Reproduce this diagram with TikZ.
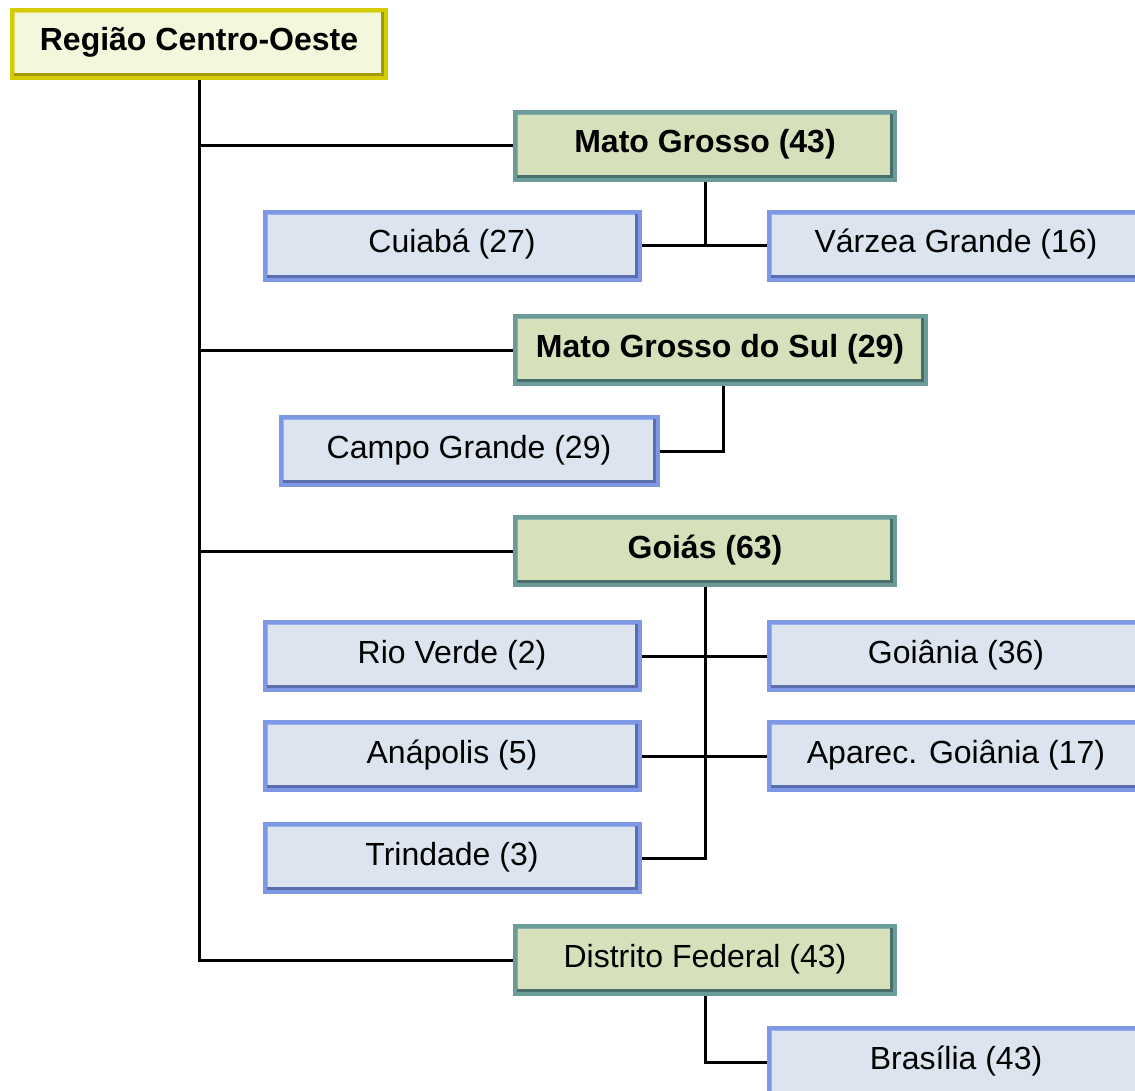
\documentclass[tikz,border=0pt]{standalone}
\usepackage{fontspec}
\setmainfont{Liberation Sans}
\usepackage{xcolor}
\usepackage{tikz}

\definecolor{rootfill}{HTML}{F5F7DC}
\definecolor{rootedge}{HTML}{D4CC00}
\definecolor{rootlite}{HTML}{E2DE6A}
\definecolor{rootdark}{HTML}{A39A00}
\definecolor{statefill}{HTML}{D6E1BC}
\definecolor{stateedge}{HTML}{6B9C99}
\definecolor{statelite}{HTML}{86AEAB}
\definecolor{statedark}{HTML}{496F6D}
\definecolor{cityfill}{HTML}{DCE4F0}
\definecolor{cityedge}{HTML}{7F98E6}
\definecolor{citylite}{HTML}{98AFEE}
\definecolor{citydark}{HTML}{5A6DAE}

\begin{document}
\begin{tikzpicture}[x=1pt, y=-1pt,
  bevelbox/.style n args={4}{rectangle, fill=#1, draw=#2, line width=4pt, inner sep=0pt,
    text height=24pt, text depth=10pt, font=\fontsize{32}{36}\selectfont,
    path picture={
      \fill[#3] (path picture bounding box.north west) rectangle ([yshift=-3pt]path picture bounding box.north east);
      \fill[#3] (path picture bounding box.north west) rectangle ([xshift=3pt]path picture bounding box.south west);
      \fill[#4] ([yshift=5pt]path picture bounding box.south west) rectangle (path picture bounding box.south east);
      \fill[#4] ([xshift=-5pt]path picture bounding box.north east) rectangle (path picture bounding box.south east);
    }},
  rootbox/.style={bevelbox={rootfill}{rootedge}{rootlite}{rootdark}, minimum width=374pt, minimum height=68pt, font=\fontsize{32}{36}\selectfont\bfseries},
  statebox/.style={bevelbox={statefill}{stateedge}{statelite}{statedark}, minimum width=380pt, minimum height=68pt},
  citybox/.style={bevelbox={cityfill}{cityedge}{citylite}{citydark}, minimum width=375pt, minimum height=68pt},
  link/.style={line width=3pt, black}]

\useasboundingbox (0,0) rectangle (1135,1091);

\node[rootbox] at (199, 44) (root) {Região Centro-Oeste};

\node[statebox, font=\fontsize{32}{36}\selectfont\bfseries] at (705, 146) (mg) {Mato Grosso (43)};
\node[statebox, minimum width=411pt, font=\fontsize{32}{36}\selectfont\bfseries] at (720, 350) (ms) {Mato Grosso do Sul (29)};
\node[statebox, font=\fontsize{32}{36}\selectfont\bfseries] at (705, 551) (go) {Goiás (63)};
\node[statebox] at (705, 960) (df) {Distrito Federal (43)};

\node[citybox] at (452, 246) (cuiaba) {Cuiabá (27)};
\node[citybox] at (956, 246) (varzea) {Várzea Grande (16)};
\node[citybox, minimum width=377pt] at (469, 451) (campo) {Campo Grande (29)};
\node[citybox] at (452, 656) (rioverde) {Rio Verde (2)};
\node[citybox] at (956, 656) (goiania) {Goiânia (36)};
\node[citybox] at (452, 756) (anapolis) {Anápolis (5)};
\node[citybox] at (956, 756) (aparecida) {Aparec. Goiânia (17)};
\node[citybox] at (452, 858) (trindade) {Trindade (3)};
\node[citybox] at (956, 1062) (brasilia) {Brasília (43)};

% tronco da regiao
\draw[link] (root.south) |- (df.west);
\draw[link] (root.south |- mg.west) -- (mg.west);
\draw[link] (root.south |- ms.west) -- (ms.west);
\draw[link] (root.south |- go.west) -- (go.west);

% cidades
\draw[link] (cuiaba) -- (varzea);
\draw[link] (mg.south) -- (mg.south |- cuiaba.east);
\draw[link] ([xshift=3pt]ms.south) |- (campo.east);
\draw[link] (rioverde) -- (goiania);
\draw[link] (anapolis) -- (aparecida);
\draw[link] (go.south) |- (trindade.east);
\draw[link] (df.south) |- (brasilia.west);

\end{tikzpicture}
\end{document}
